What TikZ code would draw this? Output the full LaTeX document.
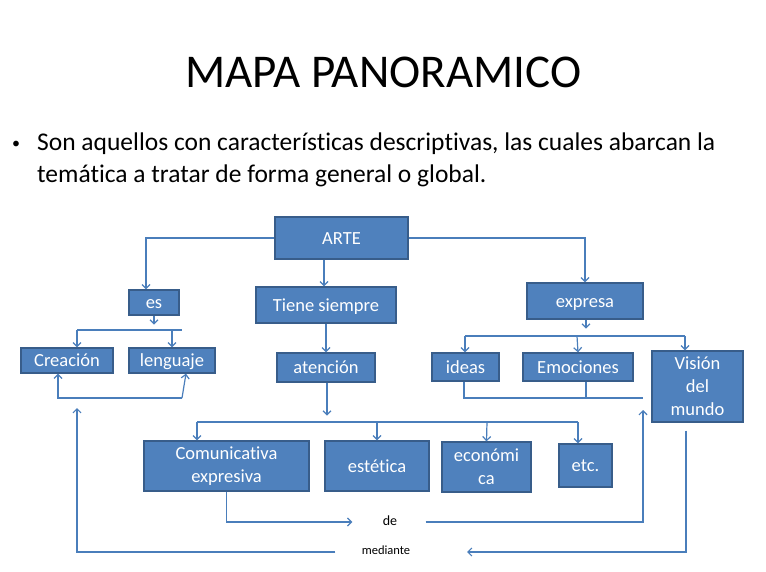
\documentclass[tikz,border=0pt]{standalone}
\usepackage{fontspec}
\setmainfont{Carlito}[Ligatures=NoCommon]
\usetikzlibrary{arrows.meta}
\definecolor{boxblue}{RGB}{79,129,189}
\definecolor{boxedge}{RGB}{56,93,138}
\definecolor{lineblue}{RGB}{74,126,187}
\begin{document}
\begin{tikzpicture}[x=1pt,y=-1pt,
  box/.style={rectangle,draw=boxedge,line width=1.3pt,fill=boxblue,text=white,
    font=\fontsize{18.5}{23}\selectfont,inner sep=0pt},
  single/.style={box,text height=12pt,text depth=0pt},
  multi/.style={box,align=center},
  link/.style={draw=lineblue,line width=1.2pt},
  arr/.style={link,-{Straight Barb[length=4pt,width=8pt]}}]
\useasboundingbox (0,0) rectangle (766,572);

% title and bullet
\node[font=\fontsize{47}{54}\selectfont] (title) at (383,72) {MAPA PANORAMICO};
\node[font=\fontsize{16}{32}\selectfont] (dot) at (16,145) {\textbullet};
\node[font=\fontsize{25.5}{32}\selectfont,anchor=north west,align=left,inner sep=0pt] (text) at (37,133)
  {Son aquellos con características descriptivas, las cuales abarcan la\\
   temática a tratar de forma general o global.};

% boxes
\node[single,minimum width=133,minimum height=42] (arte) at (341.5,238) {ARTE};
\node[single,minimum width=50,minimum height=25] (es) at (154,302.5) {es};
\node[single,minimum width=140,minimum height=36] (tiene) at (326,305) {Tiene siempre};
\node[single,minimum width=116,minimum height=36] (expresa) at (585,301) {expresa};
\node[single,minimum width=92,minimum height=25] (creacion) at (67,360.5) {Creación};
\node[single,minimum width=86,minimum height=25] (lenguaje) at (172,360.5) {lenguaje};
\node[single,minimum width=98,minimum height=29] (atencion) at (326,367.5) {atención};
\node[single,minimum width=67,minimum height=28] (ideas) at (465.5,367) {ideas};
\node[single,minimum width=110,minimum height=28] (emociones) at (578,367) {Emociones};
\node[multi,minimum width=91,minimum height=71] (vision) at (697.5,386.5) {Visión\\del\\mundo};
\node[multi,minimum width=165,minimum height=50] (comunicativa) at (226.5,466) {Comunicativa\\expresiva};
\node[single,minimum width=104,minimum height=50] (estetica) at (377,466) {estética};
\node[multi,minimum width=89,minimum height=50] (economica) at (486.5,467) {económi\\ca};
\node[single,minimum width=53,minimum height=43] (etc) at (585.5,465.5) {etc.};

\node[font=\fontsize{14}{16}\selectfont] (de) at (390,521) {de};
\node[font=\fontsize{12.5}{14}\selectfont] (mediante) at (386,550) {mediante};

% from ARTE
\draw[arr] (arte.west) -| ([xshift=-8]es.north);
\draw[arr] (arte.east) -| (expresa.north);
\draw[arr] ([xshift=-2]tiene.north |- arte.south) -- ([xshift=-2]tiene.north);

% es branch
\coordinate (esl) at (77,330);
\coordinate (esr) at (182,330);
\draw[arr] (es.south) -- ++(0,9);
\draw[link] (esl) -- (esr);
\draw[arr] (esl) -- (esl |- creacion.north);
\draw[arr] (172,330) -- (lenguaje.north);
\draw[arr] (182,398) -- ([xshift=14]lenguaje.south);
\draw[arr] (182,398) -- (58,398) -- ([xshift=-9]creacion.south);

% tiene siempre branch
\draw[arr] (tiene.south) -- (atencion.north);
\draw[arr] ([xshift=1]atencion.south) -- ++(0,33);
\coordinate (al) at (197,422);
\coordinate (ar) at (578,422);
\draw[link] (al) -- (ar);
\draw[arr] (al) -- (al |- comunicativa.north);
\draw[arr] (377,422) -- (estetica.north);
\draw[arr] (487,422) -- (economica.north);
\draw[arr] (ar) -- (etc.north -| ar);

% expresa branch
\coordinate (el) at (465,336);
\coordinate (er) at (685,336);
\draw[arr] ([xshift=1]expresa.south) -- ++(0,9);
\draw[link] (el) -- (er);
\draw[arr] (el) -- (el |- ideas.north);
\draw[arr] (577,336) -- (emociones.north);
\draw[arr] (er) -- (er |- vision.north);
\draw[link] ([xshift=-1.5]ideas.south) |- (643,398);
\draw[link] ([xshift=8]emociones.south) -- (586,398);

% de / mediante returns
\draw[arr] (comunicativa.south) |- ([xshift=-27]de.west |- 0,522);
\draw[arr] ([xshift=25]de.east |- 0,522) -| (643,410);
\draw[arr] ([xshift=-11.5]vision.south) ++(0,8) |- (467,552);
\draw[arr] ([xshift=-23]mediante.west |- 0,552) -| (77,408);
\end{tikzpicture}
\end{document}
